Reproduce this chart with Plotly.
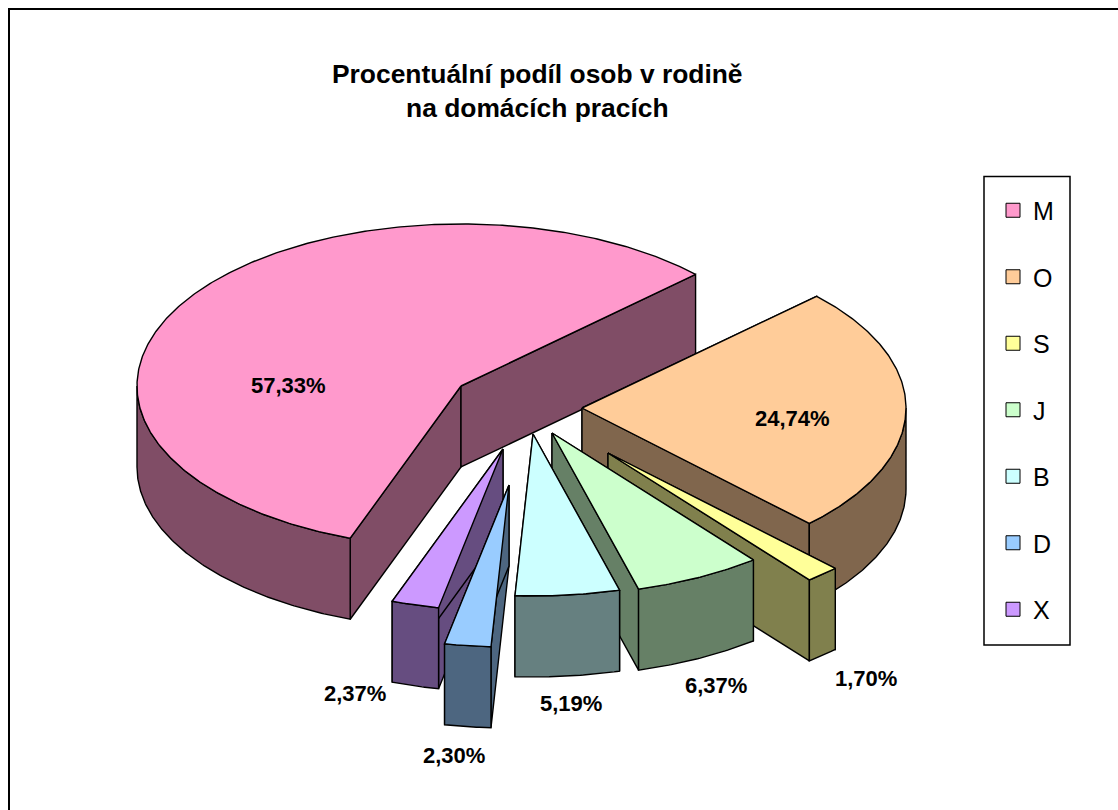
import math
import plotly.graph_objects as go

# ---- data ----
categories = ["M", "O", "S", "J", "B", "D", "X"]
shares = [57.33, 24.74, 1.70, 6.37, 5.19, 2.30, 2.37]
share_labels = ["57,33%", "24,74%", "1,70%", "6,37%", "5,19%", "2,30%", "2,37%"]
top_colors = ["#FF99CC", "#FFCC99", "#FFFF99", "#CCFFCC", "#CCFFFF", "#99CCFF", "#CC99FF"]
side_colors = ["#804D66", "#80664D", "#80804D", "#668066", "#668080", "#4D6680", "#664D80"]
title_text = "<b>Procentuální podíl osob v rodině<br>na domácích pracích</b>"

# ---- pie geometry ----
start_angle = 250.0
semi_a = 324.0
semi_b = 162.0
depth = 81.0
apex_x = [461, 582, 608, 552, 533, 509, 503]
apex_y = [386, 408, 453, 433, 434, 485, 449]
label_x = [288, 792, 866, 716, 571, 454, 355]
label_y = [385, 418, 678, 685, 703, 755, 693]
draw_order = [0, 1, 2, 3, 4, 6, 5]

spans = []
current = start_angle
for s in shares:
    stop = current - s * 3.6
    spans.append((current, stop))
    current = stop


def point(i, deg, drop=0.0):
    r = math.radians(deg)
    return apex_x[i] + semi_a * math.cos(r), apex_y[i] - semi_b * math.sin(r) + drop


def arc(i, a0, a1, drop=0.0):
    n = max(2, int(abs(a0 - a1) * 2))
    return [point(i, a0 + (a1 - a0) * k / n, drop) for k in range(n + 1)]


def lower_ranges(a0, a1):
    """Parts of the clockwise sweep a0 -> a1 lying on the front half of the ellipse."""
    out = []
    for base in (0, 360, -360):
        lo, hi = -180 + base, 0 + base
        s, e = min(a0, hi), max(a1, lo)
        if s > e:
            out.append((s, e))
    return out


fig = go.Figure()


def poly(pts, fill):
    xs = [p[0] for p in pts] + [pts[0][0]]
    ys = [p[1] for p in pts] + [pts[0][1]]
    fig.add_trace(go.Scatter(
        x=xs, y=ys, mode="lines", fill="toself", fillcolor=fill,
        line=dict(color="#000000", width=1.4), hoverinfo="skip", showlegend=False,
    ))


for i in draw_order:
    a0, a1 = spans[i]
    apex_top = (apex_x[i], apex_y[i])
    apex_bot = (apex_x[i], apex_y[i] + depth)
    for ang in (a0, a1):
        poly([apex_top, point(i, ang), point(i, ang, depth), apex_bot], side_colors[i])
    for s, e in lower_ranges(a0, a1):
        poly(arc(i, s, e) + arc(i, e, s, depth), side_colors[i])
    poly([apex_top] + arc(i, a0, a1), top_colors[i])

for i, name in enumerate(categories):
    fig.add_trace(go.Scatter(
        x=[None], y=[None], mode="markers", name=name,
        legendgroup=name,
        marker=dict(symbol="square", size=14, color=top_colors[i],
                    line=dict(color="#000000", width=1)),
    ))

for i, text in enumerate(share_labels):
    fig.add_annotation(x=label_x[i], y=label_y[i], text=f"<b>{text}</b>", showarrow=False,
                       font=dict(family="Liberation Sans", size=22, color="#000000"))

fig.add_annotation(x=537, y=91, text=title_text, showarrow=False,
                   font=dict(family="Liberation Sans", size=26.4, color="#000000"))

fig.add_shape(type="line", x0=8, y0=9, x1=1118, y1=9, line=dict(color="#000000", width=2))
fig.add_shape(type="line", x0=9, y0=8, x1=9, y1=810, line=dict(color="#000000", width=2))
fig.add_shape(type="rect", x0=984, y0=176.5, x1=1070, y1=645, layer="below",
              fillcolor="#FFFFFF", line=dict(color="#000000", width=1.5))

fig.update_layout(
    width=1118, height=810, margin=dict(l=0, r=0, t=0, b=0),
    paper_bgcolor="#FFFFFF", plot_bgcolor="#FFFFFF",
    xaxis=dict(range=[0, 1118], visible=False, fixedrange=True),
    yaxis=dict(range=[810, 0], visible=False, fixedrange=True),
    legend=dict(x=993 / 1118, y=1 - 187.5 / 810, xanchor="left", yanchor="top",
                bgcolor="rgba(0,0,0,0)", borderwidth=0,
                tracegroupgap=31, itemclick=False, itemdoubleclick=False,
                font=dict(family="Liberation Sans", size=25, color="#000000")),
)

fig.write_html("out.html", config={"displayModeBar": False},
               post_script="document.body.style.margin='0';")
